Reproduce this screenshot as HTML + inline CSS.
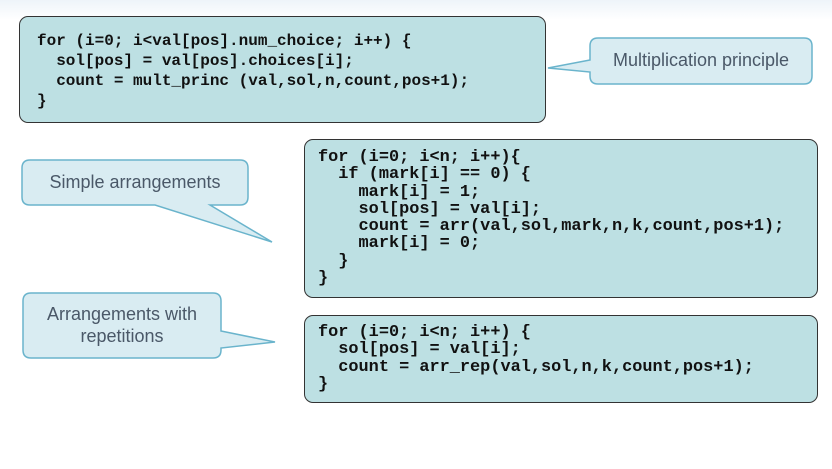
<!DOCTYPE html><html><head><style>
body{margin:0;width:832px;height:469px;background:#fff;position:relative;overflow:hidden;font-family:"Liberation Sans",sans-serif}
.code{position:absolute;background:#bde0e3;border:1.5px solid #333;border-radius:9px;box-sizing:border-box;font-family:"Liberation Mono",monospace;font-weight:bold;color:#111;white-space:pre;margin:0}
svg{position:absolute;left:0;top:0}
.t{position:absolute;color:#4a5868;font-size:18px;text-align:center}
</style></head><body>
<div style="position:absolute;left:0;top:0;width:832px;height:20px;background:linear-gradient(#eef4f9,#fff)"></div>
<pre class="code" style="left:19px;top:16px;width:527px;height:107px;padding:14px 0 0 17px;font-size:16px;line-height:20px">for (i=0; i&lt;val[pos].num_choice; i++) {
  sol[pos] = val[pos].choices[i];
  count = mult_princ (val,sol,n,count,pos+1);
}</pre>
<pre class="code" style="left:304px;top:139px;width:514px;height:159px;padding:9px 0 0 13px;font-size:16.9px;line-height:17.3px">for (i=0; i&lt;n; i++){
  if (mark[i] == 0) {
    mark[i] = 1;
    sol[pos] = val[i];
    count = arr(val,sol,mark,n,k,count,pos+1);
    mark[i] = 0;
  }
}</pre>
<pre class="code" style="left:304px;top:315px;width:514px;height:88px;padding:8px 0 0 13px;font-size:16.9px;line-height:17.3px">for (i=0; i&lt;n; i++) {
  sol[pos] = val[i];
  count = arr_rep(val,sol,n,k,count,pos+1);
}</pre>
<svg width="832" height="469">
<g fill="#d9ecf2" stroke="#6ab4cc" stroke-width="1.5">
<path d="M598 38 H804 Q812 38 812 46 V76 Q812 84 804 84 H598 Q590 84 590 76 V72 L548 68 L590 60 V46 Q590 38 598 38Z"/>
<path d="M30 160 H240 Q248 160 248 168 V197 Q248 205 240 205 H210 L272 242 L155 205 H30 Q22 205 22 197 V168 Q22 160 30 160Z"/>
<path d="M31 293 H213 Q221 293 221 301 V331 L275 342 L221 348 V350 Q221 358 213 358 H31 Q23 358 23 350 V301 Q23 293 31 293Z"/>
</g></svg>
<div class="t" style="left:590px;top:50px;width:222px">Multiplication principle</div>
<div class="t" style="left:22px;top:172px;width:226px">Simple arrangements</div>
<div class="t" style="left:23px;top:303px;width:198px;line-height:22px">Arrangements with<br>repetitions</div>
</body></html>
